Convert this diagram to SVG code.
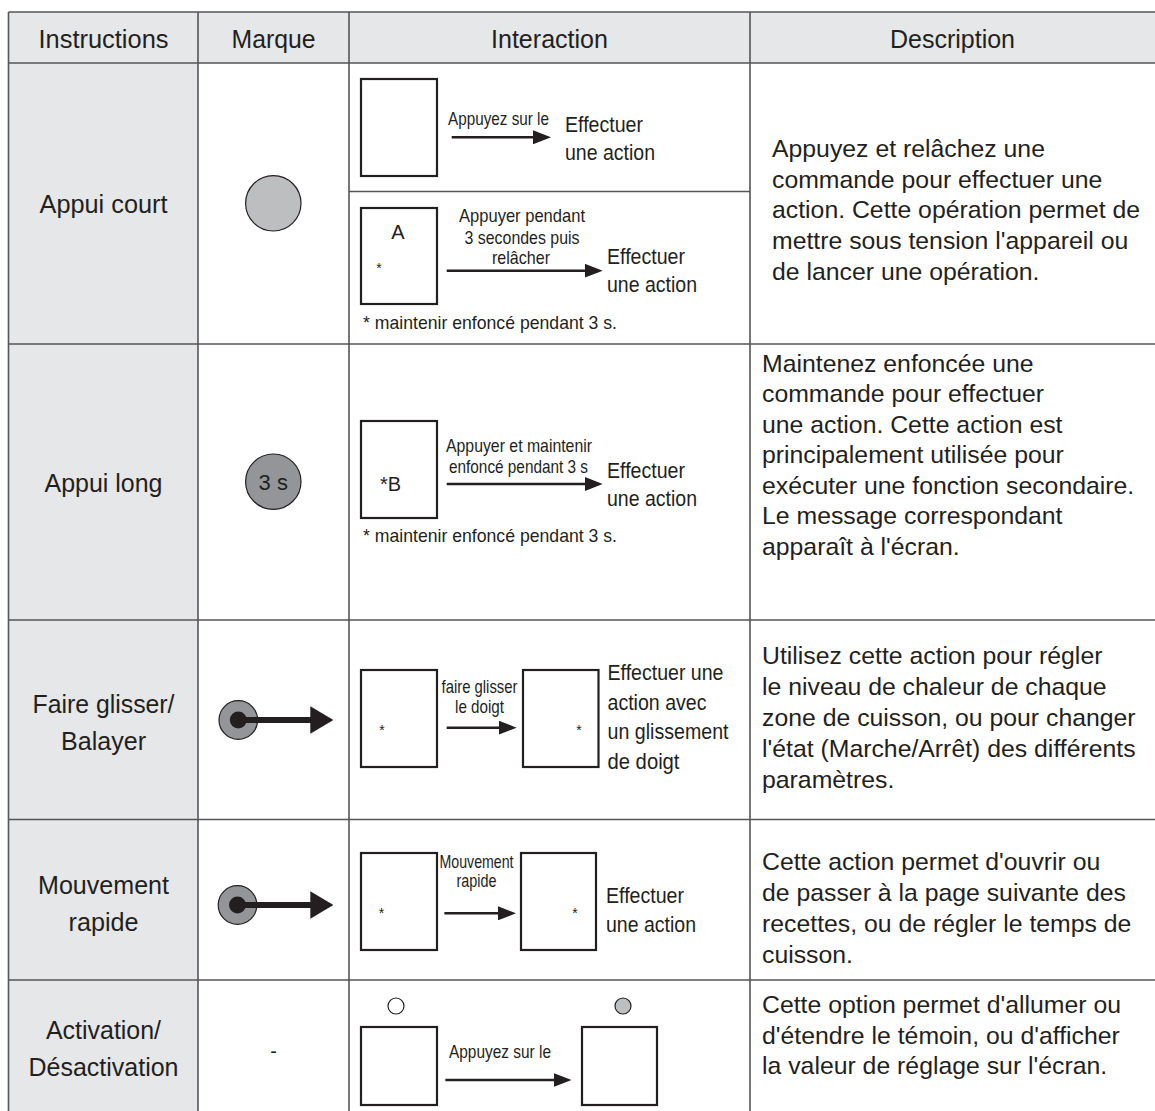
<svg xmlns="http://www.w3.org/2000/svg" width="1155" height="1111" viewBox="0 0 1155 1111">
<defs>
<style>
.grid{stroke:#555658;stroke-width:1.6;fill:none}
.hdr{fill:#e6e7e8}
.t{font-family:"Liberation Sans",Arial,sans-serif;fill:#231f20}
.h{font-size:26.5px;text-anchor:middle}
.lbl{font-size:26.5px;text-anchor:middle}
.desc{font-size:24.8px}
.res{font-size:21.5px}
.sm{font-size:18.5px;text-anchor:middle}
.note{font-size:18.5px}
.ast{font-size:14px;text-anchor:middle}
.big{font-size:20px}
.box{fill:#fff;stroke:#231f20;stroke-width:2.2}
.arr{stroke:#231f20;stroke-width:2.6;fill:none;marker-end:url(#ah)}
.swipe{stroke:#231f20;stroke-width:6;fill:none;marker-end:url(#bh)}
.ring{fill:#939598;stroke:#231f20;stroke-width:1.2}
.dot{fill:#231f20}
</style>
<marker id="ah" markerUnits="userSpaceOnUse" markerWidth="18" markerHeight="14" refX="6" refY="7" orient="auto"><path d="M0,0L18,7L0,14z" fill="#231f20"/></marker>
<marker id="bh" markerUnits="userSpaceOnUse" markerWidth="23" markerHeight="28" refX="11" refY="13.7" orient="auto"><path d="M0,0L23,13.7L0,27.4z" fill="#231f20"/></marker>
</defs>
<rect width="1155" height="1111" fill="#fff"/>
<g id="header">
<rect class="hdr" x="8.5" y="12" width="1146.5" height="51"/>
<text class="t h" x="103.5" y="47.5" textLength="130" lengthAdjust="spacingAndGlyphs">Instructions</text>
<text class="t h" x="273.5" y="47.5" textLength="84" lengthAdjust="spacingAndGlyphs">Marque</text>
<text class="t h" x="549.5" y="47.5" textLength="117" lengthAdjust="spacingAndGlyphs">Interaction</text>
<text class="t h" x="952.5" y="47.5" textLength="125" lengthAdjust="spacingAndGlyphs">Description</text>
</g>
<rect class="hdr" x="8.5" y="63" width="189.5" height="1048"/>
<g id="grid" class="grid">
<path d="M8.5,12H1155M8.5,63H1155M8.5,344H1155M8.5,620H1155M8.5,819.5H1155M8.5,980H1155M349,191.5H750"/>
<path d="M8.5,12V1111M198,12V1111M349,12V1111M750,12V1111"/>
</g>
<g id="row1-label"><text class="t lbl" x="103.5" y="213" textLength="128" lengthAdjust="spacingAndGlyphs">Appui court</text></g>
<g id="row1-mark"><circle cx="273.3" cy="203.3" r="27.7" fill="#bcbec0" stroke="#231f20" stroke-width="1.2"/></g>
<g id="row1-interaction-a">
<rect class="box" x="361" y="79" width="76" height="97"/>
<text class="t sm" x="498.5" y="125" textLength="101" lengthAdjust="spacingAndGlyphs">Appuyez sur le</text>
<text class="t res" x="565" y="131.5" textLength="78" lengthAdjust="spacingAndGlyphs">Effectuer</text>
<text class="t res" x="565" y="160" textLength="90" lengthAdjust="spacingAndGlyphs">une action</text>
</g>
<g id="row1-interaction-b">
<rect class="box" x="361" y="208" width="76" height="96"/>
<text class="t big" x="398" y="239" text-anchor="middle">A</text>
<text class="t ast" x="379" y="273">*</text>
<text class="t sm" x="522" y="221.7" textLength="126" lengthAdjust="spacingAndGlyphs">Appuyer pendant</text>
<text class="t sm" x="522" y="244" textLength="115" lengthAdjust="spacingAndGlyphs">3 secondes puis</text>
<text class="t sm" x="521" y="264.3" textLength="58" lengthAdjust="spacingAndGlyphs">relâcher</text>
<text class="t res" x="607" y="263.5" textLength="78" lengthAdjust="spacingAndGlyphs">Effectuer</text>
<text class="t res" x="607" y="292" textLength="90" lengthAdjust="spacingAndGlyphs">une action</text>
<text class="t note" x="363" y="328.5" textLength="254" lengthAdjust="spacingAndGlyphs">* maintenir enfoncé pendant 3 s.</text>
</g>
<g id="row1-desc">
<text class="t desc" x="772" y="156.7">Appuyez et relâchez une</text>
<text class="t desc" x="772" y="187.5">commande pour effectuer une</text>
<text class="t desc" x="772" y="218.3">action. Cette opération permet de</text>
<text class="t desc" x="772" y="249.1">mettre sous tension l'appareil ou</text>
<text class="t desc" x="772" y="280">de lancer une opération.</text>
</g>
<g id="row2-label"><text class="t lbl" x="103.5" y="492" textLength="118" lengthAdjust="spacingAndGlyphs">Appui long</text></g>
<g id="row2-mark">
<circle cx="273.3" cy="481.7" r="27.7" fill="#939598" stroke="#231f20" stroke-width="1.2"/>
<text class="t" x="273.3" y="490" font-size="22" text-anchor="middle" fill="#333">3 s</text>
</g>
<g id="row2-interaction">
<rect class="box" x="361" y="421" width="76" height="97"/>
<text class="t big" x="380" y="491">*B</text>
<text class="t sm" x="519" y="452.3" textLength="146" lengthAdjust="spacingAndGlyphs">Appuyer et maintenir</text>
<text class="t sm" x="518.5" y="472.7" textLength="139" lengthAdjust="spacingAndGlyphs">enfoncé pendant 3 s</text>
<text class="t res" x="607" y="477.5" textLength="78" lengthAdjust="spacingAndGlyphs">Effectuer</text>
<text class="t res" x="607" y="506" textLength="90" lengthAdjust="spacingAndGlyphs">une action</text>
<text class="t note" x="363" y="542" textLength="254" lengthAdjust="spacingAndGlyphs">* maintenir enfoncé pendant 3 s.</text>
</g>
<g id="row2-desc">
<text class="t desc" x="762" y="371.7">Maintenez enfoncée une</text>
<text class="t desc" x="762" y="402.2">commande pour effectuer</text>
<text class="t desc" x="762" y="432.7">une action. Cette action est</text>
<text class="t desc" x="762" y="463.2">principalement utilisée pour</text>
<text class="t desc" x="762" y="493.7">exécuter une fonction secondaire.</text>
<text class="t desc" x="762" y="524.2">Le message correspondant</text>
<text class="t desc" x="762" y="554.7">apparaît à l'écran.</text>
</g>
<g id="row3-label">
<text class="t lbl" x="103.5" y="713" textLength="142" lengthAdjust="spacingAndGlyphs">Faire glisser/</text>
<text class="t lbl" x="103.5" y="750" textLength="85" lengthAdjust="spacingAndGlyphs">Balayer</text>
</g>
<g id="row3-mark">
<circle class="ring" cx="238.3" cy="720" r="19.3"/>
<circle class="dot" cx="238.3" cy="720" r="8.5"/>
</g>
<g id="row3-interaction">
<rect class="box" x="361" y="670" width="76" height="97"/>
<text class="t ast" x="382" y="734.5">*</text>
<text class="t sm" x="479.5" y="692.7" textLength="76" lengthAdjust="spacingAndGlyphs">faire glisser</text>
<text class="t sm" x="479.5" y="712.7" textLength="49" lengthAdjust="spacingAndGlyphs">le doigt</text>
<rect class="box" x="523" y="670" width="75.5" height="97"/>
<text class="t ast" x="579" y="734.5">*</text>
<text class="t res" x="607.5" y="680" textLength="116" lengthAdjust="spacingAndGlyphs">Effectuer une</text>
<text class="t res" x="607.5" y="709.5" textLength="99" lengthAdjust="spacingAndGlyphs">action avec</text>
<text class="t res" x="607.5" y="739.3" textLength="121" lengthAdjust="spacingAndGlyphs">un glissement</text>
<text class="t res" x="607.5" y="769" textLength="72" lengthAdjust="spacingAndGlyphs">de doigt</text>
</g>
<g id="row3-desc">
<text class="t desc" x="762" y="664">Utilisez cette action pour régler</text>
<text class="t desc" x="762" y="695">le niveau de chaleur de chaque</text>
<text class="t desc" x="762" y="726">zone de cuisson, ou pour changer</text>
<text class="t desc" x="762" y="757">l'état (Marche/Arrêt) des différents</text>
<text class="t desc" x="762" y="788">paramètres.</text>
</g>
<g id="row4-label">
<text class="t lbl" x="103.5" y="894" textLength="131" lengthAdjust="spacingAndGlyphs">Mouvement</text>
<text class="t lbl" x="103.5" y="931" textLength="70" lengthAdjust="spacingAndGlyphs">rapide</text>
</g>
<g id="row4-mark">
<circle class="ring" cx="237.5" cy="905" r="19.3"/>
<circle class="dot" cx="237.5" cy="905" r="8.5"/>
</g>
<g id="row4-interaction">
<rect class="box" x="361" y="853" width="76" height="97"/>
<text class="t ast" x="381.6" y="918">*</text>
<text class="t sm" x="476.5" y="868" textLength="74" lengthAdjust="spacingAndGlyphs">Mouvement</text>
<text class="t sm" x="476.5" y="887" textLength="40" lengthAdjust="spacingAndGlyphs">rapide</text>
<rect class="box" x="521" y="853" width="75" height="97"/>
<text class="t ast" x="575" y="918">*</text>
<text class="t res" x="606" y="903" textLength="78" lengthAdjust="spacingAndGlyphs">Effectuer</text>
<text class="t res" x="606" y="931.5" textLength="90" lengthAdjust="spacingAndGlyphs">une action</text>
</g>
<g id="row4-desc">
<text class="t desc" x="762" y="870">Cette action permet d'ouvrir ou</text>
<text class="t desc" x="762" y="901">de passer à la page suivante des</text>
<text class="t desc" x="762" y="932">recettes, ou de régler le temps de</text>
<text class="t desc" x="762" y="963">cuisson.</text>
</g>
<g id="row5-label">
<text class="t lbl" x="103.5" y="1039" textLength="115" lengthAdjust="spacingAndGlyphs">Activation/</text>
<text class="t lbl" x="103.5" y="1076" textLength="150" lengthAdjust="spacingAndGlyphs">Désactivation</text>
</g>
<g id="row5-mark"><text class="t big" x="273.5" y="1058" text-anchor="middle">-</text></g>
<g id="row5-interaction">
<circle cx="396" cy="1006" r="8" fill="#fff" stroke="#231f20" stroke-width="1.2"/>
<rect class="box" x="361" y="1027" width="76" height="78"/>
<text class="t sm" x="500" y="1058" textLength="102" lengthAdjust="spacingAndGlyphs">Appuyez sur le</text>
<circle cx="623" cy="1006" r="8" fill="#bcbec0" stroke="#231f20" stroke-width="1.2"/>
<rect class="box" x="582" y="1027" width="75" height="78"/>
</g>
<g id="row5-desc">
<text class="t desc" x="762" y="1013">Cette option permet d'allumer ou</text>
<text class="t desc" x="762" y="1043.5">d'étendre le témoin, ou d'afficher</text>
<text class="t desc" x="762" y="1074">la valeur de réglage sur l'écran.</text>
</g>
<g id="connectors">
<line class="arr" x1="451.7" y1="137.3" x2="539" y2="137.3"/>
<line class="arr" x1="446.7" y1="270.7" x2="590.7" y2="270.7"/>
<line class="arr" x1="446.7" y1="484" x2="590.7" y2="484"/>
<line class="arr" x1="446.7" y1="727.7" x2="504.7" y2="727.7"/>
<line class="arr" x1="444.4" y1="913.3" x2="504" y2="913.3"/>
<line class="arr" x1="445.4" y1="1080" x2="559.5" y2="1080"/>
<line class="swipe" x1="238.3" y1="720" x2="321.3" y2="720"/>
<line class="swipe" x1="237.5" y1="905" x2="321.3" y2="905"/>
</g>
</svg>
